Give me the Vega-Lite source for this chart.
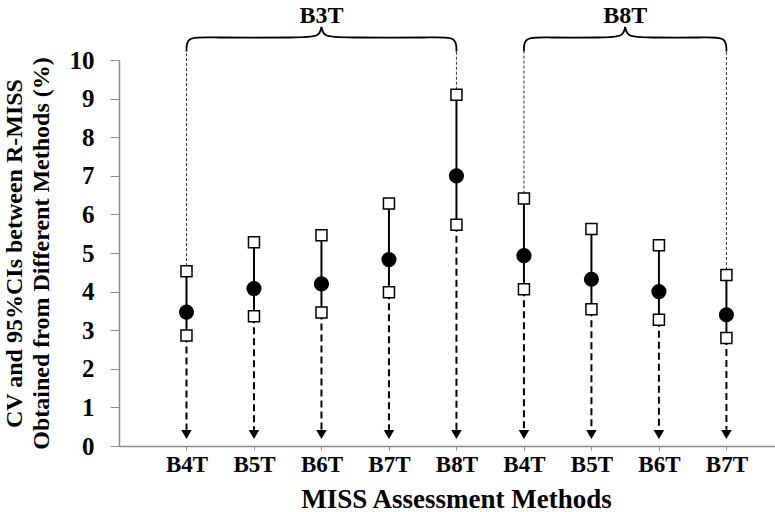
{
  "$schema": "https://vega.github.io/schema/vega-lite/v6.json",
  "width": 656,
  "height": 386,
  "autosize": {"type": "none"},
  "padding": {"left": 119, "top": 60, "right": 0, "bottom": 66},
  "background": "white",
  "config": {"view": {"stroke": null}},
  "datasets": {
    "cv": [
      {"i": 1, "method": "B4T", "group": "B3T", "cv": 3.47, "lo": 2.86, "hi": 4.53},
      {"i": 2, "method": "B5T", "group": "B3T", "cv": 4.08, "lo": 3.36, "hi": 5.28},
      {"i": 3, "method": "B6T", "group": "B3T", "cv": 4.2, "lo": 3.46, "hi": 5.46},
      {"i": 4, "method": "B7T", "group": "B3T", "cv": 4.83, "lo": 3.98, "hi": 6.28},
      {"i": 5, "method": "B8T", "group": "B3T", "cv": 7.0, "lo": 5.73, "hi": 9.1},
      {"i": 6, "method": "B4T", "group": "B8T", "cv": 4.93, "lo": 4.06, "hi": 6.41},
      {"i": 7, "method": "B5T", "group": "B8T", "cv": 4.32, "lo": 3.54, "hi": 5.62},
      {"i": 8, "method": "B6T", "group": "B8T", "cv": 4.0, "lo": 3.27, "hi": 5.2},
      {"i": 9, "method": "B7T", "group": "B8T", "cv": 3.4, "lo": 2.8, "hi": 4.43}
    ],
    "brace": [
      {"group": "B3T", "part": "a", "k": 0, "x": 1.0, "y": 10.22},
      {"group": "B3T", "part": "a", "k": 1, "x": 1.0, "y": 10.6},
      {"group": "B3T", "part": "a", "k": 2, "x": 1.3, "y": 10.58},
      {"group": "B3T", "part": "a", "k": 3, "x": 2.7, "y": 10.58},
      {"group": "B3T", "part": "a", "k": 4, "x": 2.97, "y": 10.6},
      {"group": "B3T", "part": "a", "k": 5, "x": 3.0, "y": 10.86},
      {"group": "B3T", "part": "b", "k": 0, "x": 5.0, "y": 10.22},
      {"group": "B3T", "part": "b", "k": 1, "x": 5.0, "y": 10.6},
      {"group": "B3T", "part": "b", "k": 2, "x": 4.7, "y": 10.58},
      {"group": "B3T", "part": "b", "k": 3, "x": 3.3, "y": 10.58},
      {"group": "B3T", "part": "b", "k": 4, "x": 3.03, "y": 10.6},
      {"group": "B3T", "part": "b", "k": 5, "x": 3.0, "y": 10.86},
      {"group": "B8T", "part": "c", "k": 0, "x": 6.0, "y": 10.22},
      {"group": "B8T", "part": "c", "k": 1, "x": 6.0, "y": 10.6},
      {"group": "B8T", "part": "c", "k": 2, "x": 6.3, "y": 10.58},
      {"group": "B8T", "part": "c", "k": 3, "x": 7.2, "y": 10.58},
      {"group": "B8T", "part": "c", "k": 4, "x": 7.47, "y": 10.6},
      {"group": "B8T", "part": "c", "k": 5, "x": 7.5, "y": 10.86},
      {"group": "B8T", "part": "d", "k": 0, "x": 9.0, "y": 10.22},
      {"group": "B8T", "part": "d", "k": 1, "x": 9.0, "y": 10.6},
      {"group": "B8T", "part": "d", "k": 2, "x": 8.7, "y": 10.58},
      {"group": "B8T", "part": "d", "k": 3, "x": 7.8, "y": 10.58},
      {"group": "B8T", "part": "d", "k": 4, "x": 7.53, "y": 10.6},
      {"group": "B8T", "part": "d", "k": 5, "x": 7.5, "y": 10.86}
    ]
  },
  "data": {"name": "cv"},
  "encoding": {
    "x": {
      "field": "i", "type": "quantitative",
      "scale": {"domain": [0, 9.72], "nice": false, "zero": false},
      "axis": {
        "values": [1, 2, 3, 4, 5, 6, 7, 8, 9],
        "labelExpr": "['','B4T','B5T','B6T','B7T','B8T','B4T','B5T','B6T','B7T'][datum.value]",
        "title": "MISS Assessment Methods",
        "grid": false,
        "domainColor": "#8c8c8c",
        "domainWidth": 1.5,
        "tickColor": "#8c8c8c",
        "tickSize": 4,
        "labelFont": "Liberation Serif",
        "labelFontWeight": "bold",
        "labelFontSize": 23,
        "labelColor": "black",
        "labelPadding": 3,
        "titleFont": "Liberation Serif",
        "titleFontWeight": "bold",
        "titleFontSize": 27,
        "titleColor": "black",
        "titlePadding": 10,
        "titleX": 337
      }
    },
    "y": {
      "field": "cv", "type": "quantitative",
      "scale": {"domain": [0, 10], "nice": false},
      "axis": {
        "values": [0, 1, 2, 3, 4, 5, 6, 7, 8, 9, 10],
        "title": ["CV and 95%CIs between R-MISS", "Obtained from Different Methods (%)"],
        "grid": false,
        "domainColor": "#8c8c8c",
        "domainWidth": 1.5,
        "tickColor": "#8c8c8c",
        "tickSize": 9,
        "labelFont": "Liberation Serif",
        "labelFontWeight": "bold",
        "labelFontSize": 25,
        "labelColor": "black",
        "labelPadding": 16,
        "titleFont": "Liberation Serif",
        "titleFontWeight": "bold",
        "titleFontSize": 24,
        "titleLineHeight": 27,
        "titleColor": "black",
        "titleAngle": -90,
        "titleX": -105,
        "titleY": 193,
        "titleAlign": "center",
        "titleBaseline": "middle"
      }
    }
  },
  "layer": [
    {
      "transform": [{"filter": "indexof([1,5,6,9], datum.i) >= 0"}],
      "mark": {"type": "rule", "clip": false, "color": "#333", "strokeWidth": 1, "strokeDash": [3, 2]},
      "encoding": {"y": {"field": "hi", "type": "quantitative"}, "y2": {"datum": 10.22}}
    },
    {
      "mark": {"type": "rule", "color": "black", "strokeWidth": 2, "strokeDash": [7, 4]},
      "encoding": {"y": {"field": "lo", "type": "quantitative"}, "y2": {"datum": 0.42}}
    },
    {
      "mark": {"type": "point", "shape": "triangle-down", "filled": true, "color": "black", "size": 110, "opacity": 1},
      "encoding": {"y": {"datum": 0.3}}
    },
    {
      "mark": {"type": "rule", "color": "black", "strokeWidth": 2},
      "encoding": {"y": {"field": "lo", "type": "quantitative"}, "y2": {"field": "hi"}}
    },
    {
      "mark": {"type": "point", "shape": "circle", "filled": true, "color": "black", "size": 230, "opacity": 1}
    },
    {
      "mark": {"type": "point", "shape": "square", "filled": true, "fill": "white", "stroke": "black", "strokeWidth": 1.5, "size": 121, "opacity": 1},
      "encoding": {"y": {"field": "lo", "type": "quantitative"}}
    },
    {
      "mark": {"type": "point", "shape": "square", "filled": true, "fill": "white", "stroke": "black", "strokeWidth": 1.5, "size": 121, "opacity": 1},
      "encoding": {"y": {"field": "hi", "type": "quantitative"}}
    },
    {
      "data": {"name": "brace"},
      "mark": {"type": "line", "clip": false, "interpolate": "basis", "color": "black", "strokeWidth": 1.8},
      "encoding": {
        "x": {"field": "x", "type": "quantitative"},
        "y": {"field": "y", "type": "quantitative"},
        "detail": {"field": "part"},
        "order": {"field": "k"}
      }
    },
    {
      "data": {"name": "brace"},
      "transform": [{"filter": "datum.k == 5 && (datum.part == 'a' || datum.part == 'c')"}],
      "mark": {"type": "text", "font": "Liberation Serif", "fontWeight": "bold", "fontSize": 24, "fill": "black", "baseline": "alphabetic", "align": "center", "dy": -4},
      "encoding": {
        "x": {"field": "x", "type": "quantitative"},
        "y": {"field": "y", "type": "quantitative"},
        "text": {"field": "group", "type": "nominal"}
      }
    }
  ]
}
